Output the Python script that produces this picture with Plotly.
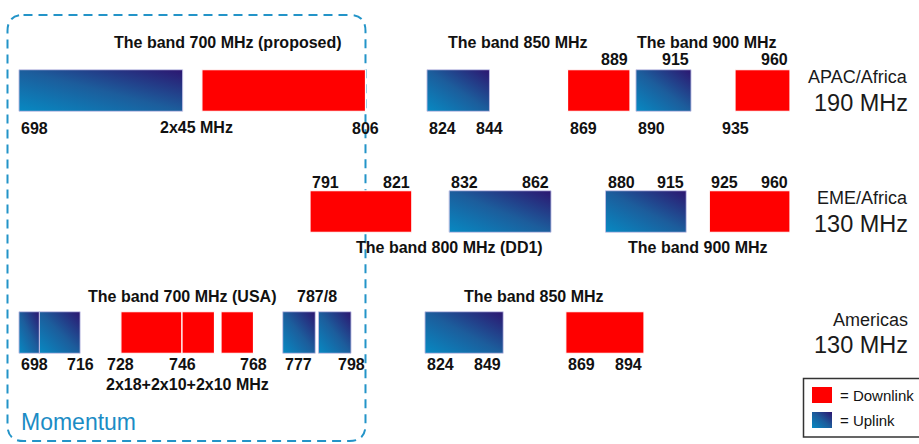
import base64
import plotly.graph_objects as go

W, H = 919, 444
FONT = "Liberation Sans, Arial, Helvetica, sans-serif"

# ---------------------------------------------------------------- data
ROW_NAMES = ["APAC/Africa", "EME/Africa", "Americas"]
ROW_TOTALS = ["190 MHz", "130 MHz", "130 MHz"]

# uplink blocks (row index, start MHz, end MHz)
UPLINK_ROW = [0, 0, 0, 1, 1, 2, 2, 2, 2, 2]
UPLINK_START = [698, 824, 890, 832, 880, 698, 704, 777, 788, 824]
UPLINK_END = [749, 844, 915, 862, 915, 704, 716, 787, 798, 849]

# downlink blocks
DOWNLINK_ROW = [0, 0, 0, 1, 1, 2, 2, 2, 2]
DOWNLINK_START = [755, 869, 935, 791, 925, 728, 746, 758, 869]
DOWNLINK_END = [806, 889, 960, 821, 960, 746, 756, 768, 894]

# band-edge frequency labels
TICK_ROW = [0, 0, 0, 0, 0, 0, 0, 0, 0, 0,
            1, 1, 1, 1, 1, 1, 1, 1,
            2, 2, 2, 2, 2, 2, 2, 2, 2, 2, 2, 2]
TICK_MHZ = [698, 806, 824, 844, 869, 890, 935, 889, 915, 960,
            791, 821, 832, 862, 880, 915, 925, 960,
            698, 716, 728, 746, 768, 777, 798, 824, 849, 869, 894, 787.5]
TICK_TEXT = ["698", "806", "824", "844", "869", "890", "935", "889", "915", "960",
             "791", "821", "832", "862", "880", "915", "925", "960",
             "698", "716", "728", "746", "768", "777", "798", "824", "849", "869", "894",
             "787/8"]

BAND_TITLES = ["The band 700 MHz (proposed)", "The band 850 MHz", "The band 900 MHz",
               "2x45 MHz",
               "The band 800 MHz (DD1)", "The band 900 MHz",
               "The band 700 MHz (USA)", "The band 850 MHz", "2x18+2x10+2x10 MHz"]

# ------------------------------------------------------------- layout
# label placement: side of the bar + horizontal alignment on the edge
TICK_PLACE = ["below-left", "below-center", "below-left", "below-center", "below-left",
              "below-left", "below-center", "above-right", "above-right", "above-right",
              "above-left", "above-right", "above-left", "above-right",
              "above-left", "above-right", "above-left", "above-right",
              "below-left", "below-center", "below-center", "below-center", "below-center",
              "below-left", "below-center", "below-left", "below-right", "below-left",
              "below-right", "above-center"]
ABOVE_PX = [31, 29, 36]
BELOW_PX = [37.5, 0, 32]

TITLE_PX = [(228, 42), (518, 42), (707, 42), (196, 128),
            (449, 247), (698, 247),
            (182, 296), (534, 296), (187, 384)]

# broken frequency scale: each row is split into segments (MHz -> px)
SEGMENTS = [
    (0, 698, 806, 19, 365.5),
    (0, 824, 889, 427, 630),
    (0, 890, 960, 636, 790),
    (1, 791, 862, 310, 551),
    (1, 880, 960, 605.5, 790),
    (2, 698, 746, 19, 182),
    (2, 746, 798, 182, 351),
    (2, 824, 894, 425, 644),
]
PAD = 4

FIRST_ROW_PX = 90.5
ROW_PITCH_PX = 121.0
BAR_PX = 41.5
BAR_H = BAR_PX / ROW_PITCH_PX

RED = "#FF0000"
ACCENT = "#2394c8"

GRAD_SVG = (
    '<svg xmlns="http://www.w3.org/2000/svg" width="240" height="240" '
    'viewBox="0 0 240 240" preserveAspectRatio="none">'
    '<defs><linearGradient id="g" x1="0" y1="1" x2="1" y2="0">'
    '<stop offset="0" stop-color="#0789c2"/>'
    '<stop offset="0.5" stop-color="#1c5d9c"/>'
    '<stop offset="1" stop-color="#2c1670"/>'
    '</linearGradient></defs>'
    '<rect width="240" height="240" fill="url(#g)"/></svg>'
)
GRAD_URI = "data:image/svg+xml;base64," + base64.b64encode(GRAD_SVG.encode()).decode()


def px(x):
    return x / W


def py(y):
    return 1 - y / H


fig = go.Figure()
layout_axes = {}
axis_ids = []
for i, (row, f0, f1, p0, p1) in enumerate(SEGMENTS):
    k = (p1 - p0) / (f1 - f0)
    name = "xaxis" if i == 0 else f"xaxis{i + 1}"
    aid = "x" if i == 0 else f"x{i + 1}"
    layout_axes[name] = dict(domain=[(p0 - PAD) / W, (p1 + PAD) / W],
                             range=[f0 - PAD / k, f1 + PAD / k],
                             anchor="y", visible=False, fixedrange=True)
    axis_ids.append(aid)


def axis_for(row, lo, hi):
    for aid, (r, f0, f1, _, _) in zip(axis_ids, SEGMENTS):
        if r == row and f0 - 1e-6 <= lo and hi <= f1 + 1e-6:
            return aid
    raise ValueError((row, lo, hi))


def add_blocks(rows, starts, ends, marker):
    groups = {}
    for r, s, e in zip(rows, starts, ends):
        groups.setdefault(axis_for(r, s, e), []).append((r, s, e))
    for aid, items in groups.items():
        fig.add_trace(go.Bar(
            orientation="h",
            y=[r for r, _, _ in items],
            base=[s for _, s, _ in items],
            x=[e - s for _, s, e in items],
            width=BAR_H,
            xaxis=aid, yaxis="y",
            marker=marker,
            hoverinfo="skip", showlegend=False,
        ))


add_blocks(DOWNLINK_ROW, DOWNLINK_START, DOWNLINK_END,
           dict(color=RED, line=dict(color="white", width=1.2)))
add_blocks(UPLINK_ROW, UPLINK_START, UPLINK_END,
           dict(color="rgba(0,0,0,0)", line=dict(color="rgba(185,185,225,0.9)", width=1)))

# gradient fill of the uplink blocks
images = []
for r, s, e in zip(UPLINK_ROW, UPLINK_START, UPLINK_END):
    images.append(dict(source=GRAD_URI, xref=axis_for(r, s, e), yref="y",
                       x=s, y=r, sizex=e - s, sizey=BAR_H,
                       xanchor="left", yanchor="middle",
                       sizing="stretch", layer="below"))

annotations = []
bold = dict(family=FONT, size=16, color="#111111", weight="bold")

# frequency labels
for r, f, t, place in zip(TICK_ROW, TICK_MHZ, TICK_TEXT, TICK_PLACE):
    side, align = place.split("-")
    shift = ABOVE_PX[r] if side == "above" else -BELOW_PX[r]
    annotations.append(dict(text=t, xref=axis_for(r, f, f), yref="y", x=f, y=r,
                            xanchor=align, yanchor="middle", yshift=shift,
                            showarrow=False, font=bold))

# band titles and notes
for t, (x, y) in zip(BAND_TITLES, TITLE_PX):
    annotations.append(dict(text=t, xref="paper", yref="paper", x=px(x), y=py(y),
                            xanchor="center", yanchor="middle", showarrow=False, font=bold))

# region names and totals on the right
for i, (name, total) in enumerate(zip(ROW_NAMES, ROW_TOTALS)):
    yc = FIRST_ROW_PX + i * ROW_PITCH_PX
    annotations.append(dict(text=name, xref="paper", yref="paper", x=px(910), y=py(yc - 13),
                            xanchor="right", yanchor="middle", showarrow=False,
                            font=dict(family=FONT, size=18, color="#1a1a1a")))
    annotations.append(dict(text=total, xref="paper", yref="paper", x=px(910), y=py(yc + 12),
                            xanchor="right", yanchor="middle", showarrow=False,
                            font=dict(family=FONT, size=23.5, color="#1a1a1a")))

annotations.append(dict(text="Momentum", xref="paper", yref="paper", x=px(19), y=py(422),
                        xanchor="left", yanchor="middle", showarrow=False,
                        font=dict(family=FONT, size=23, color="#1b8cc5")))

# key
annotations.append(dict(text="= Downlink", xref="paper", yref="paper", x=px(838), y=py(395),
                        xanchor="left", yanchor="middle", showarrow=False,
                        font=dict(family=FONT, size=15, color="#111111")))
annotations.append(dict(text="= Uplink", xref="paper", yref="paper", x=px(838), y=py(420),
                        xanchor="left", yanchor="middle", showarrow=False,
                        font=dict(family=FONT, size=15, color="#111111")))
images.append(dict(source=GRAD_URI, xref="paper", yref="paper",
                   x=px(812), y=py(412), sizex=20 / W, sizey=16 / H,
                   xanchor="left", yanchor="top", sizing="stretch", layer="above"))

shapes = [
    dict(type="rect", xref="paper", yref="paper", x0=px(803.5), x1=px(930),
         y0=py(378.5), y1=py(437), line=dict(color="#333333", width=1.5),
         fillcolor="rgba(0,0,0,0)", layer="above"),
    dict(type="rect", xref="paper", yref="paper", x0=px(812), x1=px(832),
         y0=py(387), y1=py(403), line=dict(width=0), fillcolor=RED, layer="above"),
]

# dashed rounded frame around the 700 MHz region
x0, y0, x1, y1, rad = 7.5, 15, 365.5, 441, 16


def pt(x, y):
    return f"{px(x):.5f},{py(y):.5f}"


frame = (f"M {pt(x0 + rad, y0)} L {pt(x1 - rad, y0)} Q {pt(x1, y0)} {pt(x1, y0 + rad)} "
         f"L {pt(x1, y1 - rad)} Q {pt(x1, y1)} {pt(x1 - rad, y1)} "
         f"L {pt(x0 + rad, y1)} Q {pt(x0, y1)} {pt(x0, y1 - rad)} "
         f"L {pt(x0, y0 + rad)} Q {pt(x0, y0)} {pt(x0 + rad, y0)} Z")
shapes.append(dict(type="path", path=frame, xref="paper", yref="paper",
                   line=dict(color=ACCENT, width=2, dash="9px,6px"), layer="below"))

y_top = -FIRST_ROW_PX / ROW_PITCH_PX
y_bottom = y_top + H / ROW_PITCH_PX

fig.update_layout(
    width=W, height=H, autosize=False,
    margin=dict(l=0, r=0, t=0, b=0),
    paper_bgcolor="white", plot_bgcolor="rgba(0,0,0,0)",
    barmode="overlay",
    yaxis=dict(domain=[0, 1], range=[y_bottom, y_top], visible=False, fixedrange=True),
    annotations=annotations, images=images, shapes=shapes,
    font=dict(family=FONT),
    **layout_axes,
)

fig.write_html("out.html", config={"displayModeBar": False})
